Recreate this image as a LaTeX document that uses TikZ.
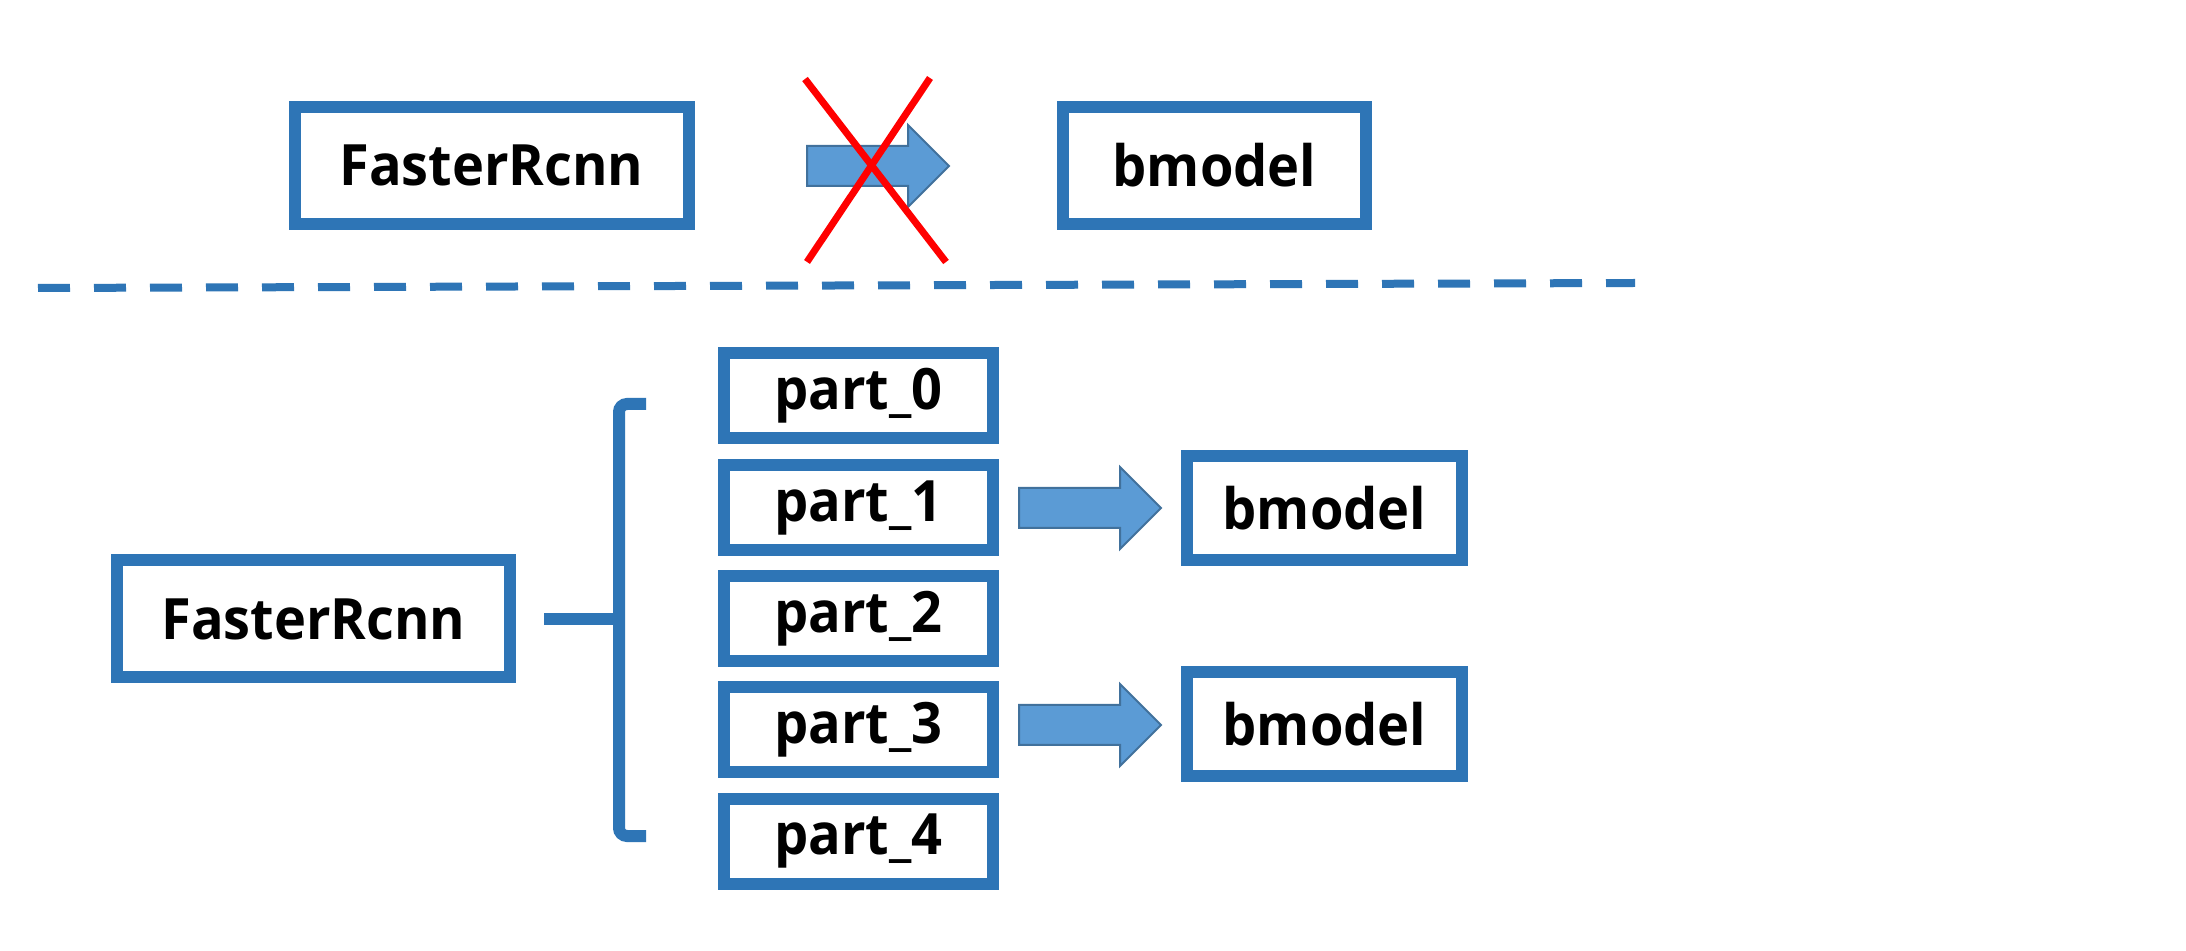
\documentclass[tikz,border=0pt]{standalone}
\usepackage{fontspec}
\setmainfont{Open Sans}[FakeStretch=0.95]
\begin{document}
\begin{tikzpicture}[x=0.5pt,y=-0.5pt,
  box/.style={draw=boxblue,line width=6pt,fill=white,inner sep=0pt,
    font=\fontsize{28.5}{31}\selectfont\bfseries},
  bigbox/.style={box,minimum width=197pt,minimum height=58.5pt},
  partbox/.style={box,minimum width=134.5pt,minimum height=42.5pt},
  modelbox/.style={box,minimum width=137.5pt,minimum height=52pt},
  arrowstyle/.style={fill=arrowfill,draw=arrowedge,line width=1pt,line join=miter},
  bracestyle/.style={draw=boxblue,line width=6pt,rounded corners=4pt},
  crossline/.style={red,line width=3.5pt},
  blockarrow/.pic={\path[arrowstyle] (0,-20) -- (101,-20) -- (101,-41) -- (142,0) -- (101,41) -- (101,20) -- (0,20) -- cycle;}
]
\definecolor{boxblue}{HTML}{2E75B6}
\definecolor{arrowfill}{HTML}{5B9BD5}
\definecolor{arrowedge}{HTML}{41719C}
\path[use as bounding box,fill=white] (0,0) rectangle (2186,951);

% top row
\node[bigbox] (fr1) at (491.5,165.5) {FasterRcnn};
\node[box,minimum width=151.5pt,minimum height=58.5pt] (bm0) at (1214.5,165.5) {bmodel};
\pic at (807,166) {blockarrow};
\coordinate (x1a) at (805,79);
\coordinate (x1b) at (946,262);
\coordinate (x2a) at (930,78);
\coordinate (x2b) at (807,262);
\draw[crossline] (x1a) -- (x1b);
\draw[crossline] (x2a) -- (x2b);

% separator
\coordinate (sepL) at (38,288);
\coordinate (sepR) at (1635,283);
\draw[boxblue,line width=4pt,dash pattern=on 16pt off 12pt] (sepL) -- (sepR);

% bottom
\node[bigbox,minimum width=196.5pt] (fr2) at (313.5,619) {FasterRcnn};
\node[partbox] (p0) at (858.5,396) {part\_0};
\node[partbox] (p1) at (858.5,508) {part\_1};
\node[partbox] (p2) at (858.5,619) {part\_2};
\node[partbox] (p3) at (858.5,730) {part\_3};
\node[partbox] (p4) at (858.5,841.5) {part\_4};
\node[modelbox] (bm1) at (1324.5,508) {bmodel};
\node[modelbox] (bm2) at (1324.5,724.5) {bmodel};

\coordinate (btop) at (646,404);
\coordinate (bbot) at (646,836);
\coordinate (bmid) at (622,619);
\draw[bracestyle] (btop) -- (619,404) -- (619,836) -- (bbot);
\draw[boxblue,line width=6pt] ([xshift=14pt]fr2.east) -- (bmid);

\pic at (1019,508) {blockarrow};
\pic at (1019,725) {blockarrow};
\end{tikzpicture}
\end{document}
